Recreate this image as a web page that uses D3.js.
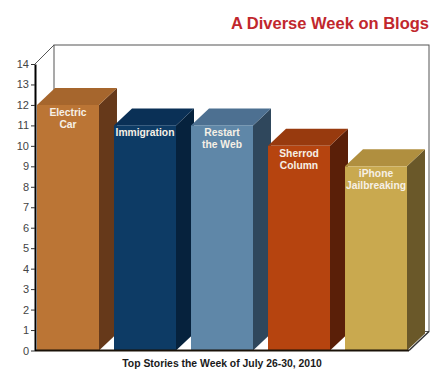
<!DOCTYPE html>
<html>
<head>
<meta charset="utf-8">
<script src="https://cdn.jsdelivr.net/npm/d3@7"></script>
<style>
  html, body { margin: 0; padding: 0; background: #fff; }
  svg { display: block; }
</style>
</head>
<body>
<svg id="chart" width="436" height="379"></svg>
<script>
const categories = ["Electric Car", "Immigration", "Restart the Web", "Sherrod Column", "iPhone Jailbreaking"];
const labelLines = [["Electric", "Car"], ["Immigration"], ["Restart", "the Web"], ["Sherrod", "Column"], ["iPhone", "Jailbreaking"]];
const values = [12, 11, 11, 10, 9];
const frontColors = ["#bb7535", "#0d3b65", "#5f87a8", "#b6440f", "#c9a94f"];
const sideColors = ["#66391a", "#06223d", "#2f475c", "#5a1f08", "#6a5829"];
const topColors = ["#a6662d", "#0a3056", "#4d7091", "#983a0e", "#b08f3f"];
const yTicks = d3.range(0, 15);
const titleText = "A Diverse Week on Blogs";
const xTitleText = "Top Stories the Week of July 26-30, 2010";

const svg = d3.select("#chart");
const font = "'Liberation Sans', Arial, sans-serif";

const y = d3.scaleLinear().domain([0, 14]).range([350.5, 64]);
const x = d3.scaleBand().domain(categories).range([37, 407]).paddingInner(0.195).paddingOuter(0);

const axisX = 35;
const wallDx = 19, wallDy = 19;
const barDx = 18, barDy = 17;
const y0 = y(0);
const floorRight = 409;

// back wall
svg.append("rect")
  .attr("x", axisX + wallDx).attr("y", y(14) - wallDy)
  .attr("width", 429 - (axisX + wallDx)).attr("height", (y0 - wallDy) - (y(14) - wallDy))
  .attr("fill", "#fff").attr("stroke", "#555").attr("stroke-width", 1);

// left wall top diagonal
svg.append("line")
  .attr("x1", axisX).attr("y1", y(14))
  .attr("x2", axisX + wallDx).attr("y2", y(14) - wallDy)
  .attr("stroke", "#555").attr("stroke-width", 1);

// bars
const bars = svg.append("g");
categories.forEach((c, i) => {
  const bx = x(c), bw = x.bandwidth(), ty = y(values[i]);
  const g = bars.append("g");
  g.append("path")
    .attr("d", `M${bx + bw},${ty} L${bx + bw + barDx},${ty - barDy} L${bx + bw + barDx},${y0 - barDy} L${bx + bw},${y0} Z`)
    .attr("fill", sideColors[i]);
  g.append("path")
    .attr("d", `M${bx},${ty} L${bx + barDx},${ty - barDy} L${bx + bw + barDx},${ty - barDy} L${bx + bw},${ty} Z`)
    .attr("fill", topColors[i]);
  g.append("rect")
    .attr("x", bx).attr("y", ty).attr("width", bw).attr("height", y0 - ty)
    .attr("fill", frontColors[i]);
  const t = g.append("text")
    .attr("text-anchor", "middle")
    .attr("font-family", font).attr("font-weight", "bold").attr("font-size", 10.3)
    .attr("fill", "#f6f0e6");
  labelLines[i].forEach((ln, k) => {
    t.append("tspan").attr("x", bx + bw / 2).attr("y", ty + 11 + k * 12).text(ln);
  });
});

// floor front line and right edge
svg.append("line")
  .attr("x1", axisX).attr("y1", y0).attr("x2", floorRight).attr("y2", y0)
  .attr("stroke", "#1a1208").attr("stroke-width", 2);
svg.append("line")
  .attr("x1", floorRight).attr("y1", y0).attr("x2", floorRight + wallDx + 1).attr("y2", y0 - wallDy)
  .attr("stroke", "#333").attr("stroke-width", 1.5);

// y axis
const yAxis = d3.axisLeft(y).tickValues(yTicks).tickSize(4).tickSizeOuter(0).tickPadding(2);
const ga = svg.append("g").attr("transform", `translate(${axisX},0)`).call(yAxis);
ga.select(".domain").attr("stroke", "#000").attr("stroke-width", 2);
ga.selectAll(".tick line").attr("stroke", "#333");
ga.selectAll(".tick text").attr("font-family", font).attr("font-size", 11).attr("fill", "#444");

// title
svg.append("text")
  .attr("x", 429).attr("y", 29).attr("text-anchor", "end")
  .attr("font-family", font).attr("font-weight", "bold").attr("font-size", 16.5)
  .attr("fill", "#c1272d").text(titleText);

// x title
svg.append("text")
  .attr("x", 222).attr("y", 367).attr("text-anchor", "middle")
  .attr("font-family", font).attr("font-weight", "bold").attr("font-size", 10.4)
  .attr("fill", "#1a1a1a").text(xTitleText);
</script>
</body>
</html>
